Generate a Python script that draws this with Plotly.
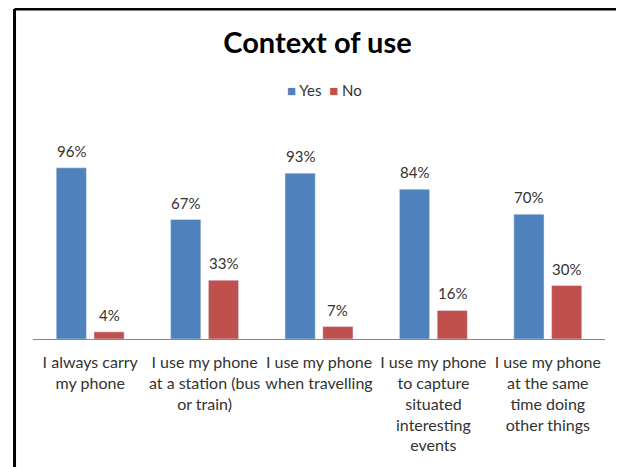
import plotly.graph_objects as go

categories = [
    "I always carry<br>my phone",
    "I use my phone<br>at a station (bus<br>or train)",
    "I use my phone<br>when travelling",
    "I use my phone<br>to capture<br>situated<br>interesting<br>events",
    "I use my phone<br>at the same<br>time doing<br>other things",
]
yes_values = [0.96, 0.67, 0.93, 0.84, 0.70]
no_values = [0.04, 0.33, 0.07, 0.16, 0.30]

BLUE = "#4F81BD"
RED = "#C0504D"
FONT = "Lato"
TXT = "#333333"

W, H = 616, 459  # page body has an 8px margin
ML, MR, MT, MB = 25, 19, 117, 128
plot_w = W - ML - MR
plot_h = H - MT - MB

fig = go.Figure()
fig.add_trace(go.Bar(name="Yes", x=categories, y=yes_values, marker_color=BLUE))
fig.add_trace(go.Bar(name="No", x=categories, y=no_values, marker_color=RED))

# data labels above bars
for vals, shift in ((yes_values, -18.9), (no_values, 18.9)):
    for c, v in zip(categories, vals):
        fig.add_annotation(x=c, y=v, xref="x", yref="y", text=f"{round(v*100)}%",
                           showarrow=False, xshift=shift, yshift=17,
                           font=dict(family=FONT, size=15, color=TXT))

# compact legend
fig.add_annotation(
    xref="paper", yref="paper", x=(316 - ML) / plot_w, y=(H - MB - 82) / plot_h,
    xanchor="center", yanchor="middle", showarrow=False,
    text=f"<span style='color:{BLUE}'>■</span> Yes  <span style='color:{RED}'>■</span> No",
    font=dict(family=FONT, size=15, color=TXT),
)

# chart frame
fig.add_shape(type="line", xref="paper", yref="paper", x0=-0.0323, x1=1.03, y0=1.542, y1=1.542,
              line=dict(color="black", width=3))
fig.add_shape(type="line", xref="paper", yref="paper", x0=-0.0323, x1=-0.0323, y0=1.542, y1=-0.7,
              line=dict(color="black", width=3))
fig.add_shape(type="line", xref="paper", yref="paper", x0=1.022, x1=1.022, y0=1.542, y1=-0.7,
              line=dict(color="#808080", width=1))

fig.update_layout(
    width=W, height=H,
    margin=dict(l=ML, r=MR, t=MT, b=MB),
    paper_bgcolor="white", plot_bgcolor="white",
    title=dict(text="<b>Context of use</b>", x=309.5 / W, xanchor="center", xref="container",
               y=1 - 35 / H, yanchor="middle", yref="container",
               font=dict(family=FONT, size=29, color="black")),
    bargap=0.34, bargroupgap=0.2,
    showlegend=False,
)

fig.update_xaxes(showline=True, linecolor="#868686", linewidth=1, showgrid=False,
                 ticks="outside", ticklen=9, tickcolor="rgba(0,0,0,0)",
                 tickfont=dict(family=FONT, size=16, color=TXT))
fig.update_yaxes(range=[0, 1.2], visible=False, showgrid=False)

fig.write_html("out.html")
